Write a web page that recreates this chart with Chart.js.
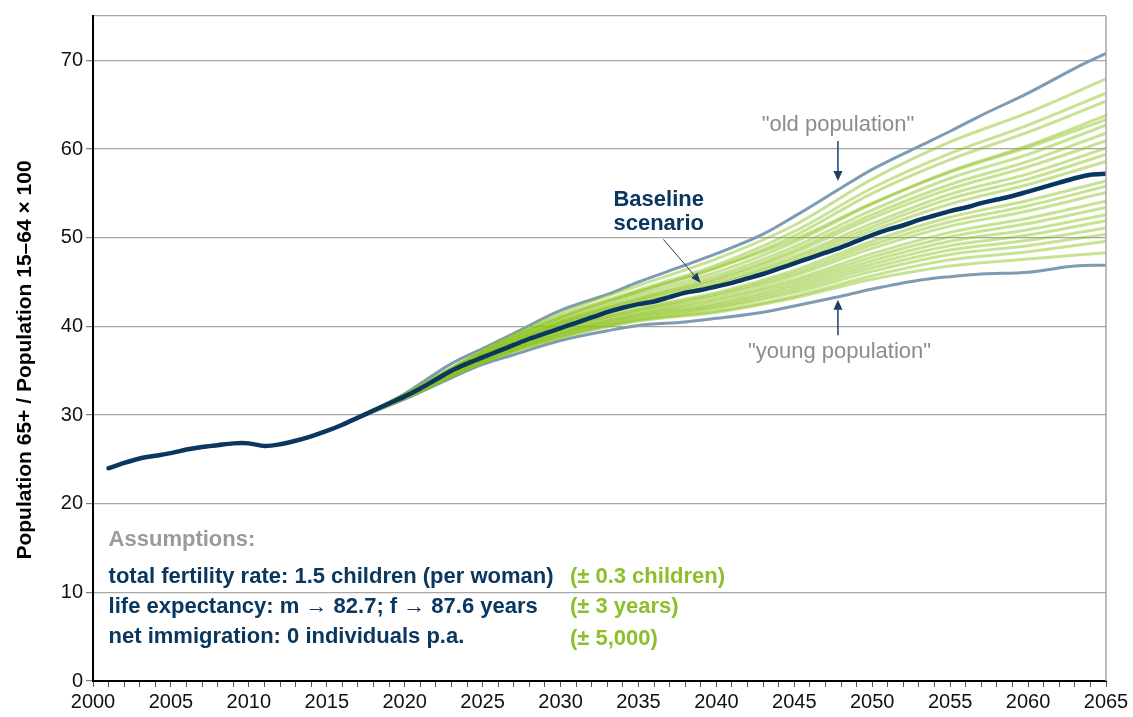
<!DOCTYPE html>
<html><head><meta charset="utf-8">
<script src="https://cdn.jsdelivr.net/npm/chart.js@4.4.1/dist/chart.umd.min.js"></script>
<style>html,body{margin:0;padding:0;background:#fff}#wrap{width:1133px;height:717px;position:relative}</style>
</head><body><div id="wrap"><canvas id="c"></canvas></div>
<script>
// ---------- data ----------
const baseYears = [2001,2002,2003,2004,2005,2006,2007,2008,2009,2010,2011,2012,2013,2014,2015,2016,2017,2018,2019,2020,
  2021,2022,2023,2024,2025,2026,2027,2028,2029,2030,2031,2032,2033,2034,2035,2036,2037,2038,2039,2040,
  2041,2042,2043,2044,2045,2046,2047,2048,2049,2050,2051,2052,2053,2054,2055,2056,2057,2058,2059,2060,
  2061,2062,2063,2064,2065];
const baseline = [24.0,24.6,25.1,25.4,25.7,26.1,26.4,26.6,26.8,26.8,26.5,26.7,27.1,27.6,28.2,28.9,29.7,30.5,31.3,32.1,
  33.0,34.0,35.0,35.8,36.5,37.2,37.9,38.6,39.2,39.8,40.4,41.0,41.6,42.1,42.5,42.8,43.3,43.8,44.1,44.5,
  44.9,45.4,45.9,46.5,47.1,47.7,48.3,48.9,49.6,50.3,50.9,51.4,52.0,52.5,53.0,53.4,53.9,54.3,54.7,55.2,
  55.7,56.2,56.7,57.1,57.2];

const envYears = [2017,2020,2023,2025,2027,2030,2033,2035,2038,2040,2043,2045,2048,2050,2053,2055,2057,2060,2063,2065];
const oldPopulation   = [29.7,32.4,35.8,37.5,39.2,41.8,43.6,45.0,46.9,48.2,50.4,52.4,55.6,57.7,60.3,62.0,63.8,66.3,69.1,70.8];
const youngPopulation = [29.7,31.8,34.2,35.7,36.8,38.4,39.5,40.1,40.5,40.9,41.6,42.3,43.4,44.2,45.2,45.6,45.9,46.1,46.8,46.9];

const variantYears = [2017,2020,2025,2030,2035,2040,2045,2050,2055,2060,2065];
const v01 = [29.7,32.3,37.3,41.5,44.6,47.6,51.4,56.6,60.8,64.1,67.9];
const v02 = [29.7,32.3,37.2,41.2,44.1,46.9,50.7,55.6,59.5,62.7,66.3];
const v03 = [29.7,32.3,37.1,41.0,43.9,46.6,50.2,55.0,58.8,61.9,65.4];
const v04 = [29.7,32.2,37.0,40.8,43.6,46.1,49.5,53.8,57.5,60.4,63.8];
const v05 = [29.7,32.3,37.1,41.0,43.9,46.6,49.8,53.9,57.4,60.2,63.3];
const v06 = [29.7,32.2,36.9,40.6,43.3,45.7,49.0,53.1,56.7,59.4,62.7];
const v07 = [29.7,32.2,36.8,40.5,43.1,45.4,48.6,52.6,56.0,58.6,61.8];
const v08 = [29.7,32.2,36.8,40.4,43.0,45.2,48.3,52.2,55.5,58.0,60.9];
const v09 = [29.7,32.1,36.7,40.3,42.8,44.9,47.9,51.6,54.9,57.2,60.1];
const v10 = [29.7,32.1,36.6,40.2,42.6,44.7,47.6,51.2,54.4,56.6,59.4];
const v11 = [29.7,32.1,36.6,40.1,42.5,44.5,47.3,50.8,53.8,56.0,58.6];
const v12 = [29.7,32.0,36.4,39.8,42.1,43.8,46.3,49.6,52.3,54.2,56.4];
const v13 = [29.7,32.0,36.4,39.7,41.9,43.6,46.0,49.2,51.8,53.6,55.8];
const v14 = [29.7,32.0,36.3,39.6,41.8,43.4,45.7,48.8,51.3,53.0,55.1];
const v15 = [29.7,32.0,36.2,39.4,41.6,43.1,45.3,48.2,50.6,52.2,54.1];
const v16 = [29.7,32.0,36.2,39.3,41.4,42.9,45.0,47.8,50.1,51.6,53.4];
const v17 = [29.7,31.9,36.1,39.2,41.3,42.6,44.7,47.4,49.6,50.9,52.6];
const v18 = [29.7,31.9,36.1,39.1,41.1,42.4,44.4,47.0,49.1,50.3,51.9];
const v19 = [29.7,31.9,36.0,39.0,41.0,42.2,44.1,46.6,48.6,49.7,51.1];
const v20 = [29.7,31.9,36.0,38.9,40.8,42.0,43.8,46.2,48.1,49.1,50.4];
const v21 = [29.7,31.9,35.9,38.8,40.7,41.7,43.4,45.7,47.5,48.4,49.6];
const v22 = [29.7,31.9,35.9,38.7,40.6,41.6,43.2,45.3,46.8,47.6,48.3];
const variants = [v01,v02,v03,v04,v05,v06,v07,v08,v09,v10,v11,v12,v13,v14,v15,v16,v17,v18,v19,v20,v21,v22];

const yTicks = [0,10,20,30,40,50,60,70];

// ---------- styles ----------
const NAVY = '#0a3760';
const ENV = '#7e9bb4';
const GREEN_LINE = 'rgba(141,194,31,0.48)';
const GREEN_TXT = '#8dbf2a';
const GRAY_TXT = '#8c8c8c';
const FONT = '"Liberation Sans", Arial, sans-serif';

const pts = (xs, ys) => xs.map((x, i) => ({x: x, y: ys[i]}));

const datasets = [];
datasets.push({data: pts(baseYears, baseline), borderColor: NAVY, borderWidth: 4.5, pointRadius: 0, tension: 0.3, borderCapStyle: 'round', borderJoinStyle: 'round'});
variants.forEach(v => datasets.push({data: pts(variantYears, v), borderColor: GREEN_LINE, borderWidth: 3, pointRadius: 0, cubicInterpolationMode: 'monotone'}));
datasets.push({data: pts(envYears, oldPopulation), borderColor: ENV, borderWidth: 3, pointRadius: 0, cubicInterpolationMode: 'monotone'});
datasets.push({data: pts(envYears, youngPopulation), borderColor: ENV, borderWidth: 3, pointRadius: 0, cubicInterpolationMode: 'monotone'});

function arrow(ctx, x1, y1, x2, y2, lw, hl, hw, color) {
  const a = Math.atan2(y2 - y1, x2 - x1);
  ctx.save();
  ctx.strokeStyle = color; ctx.fillStyle = color; ctx.lineWidth = lw;
  ctx.beginPath();
  ctx.moveTo(x1, y1);
  ctx.lineTo(x2 - Math.cos(a) * hl * 0.8, y2 - Math.sin(a) * hl * 0.8);
  ctx.stroke();
  ctx.translate(x2, y2); ctx.rotate(a);
  ctx.beginPath();
  ctx.moveTo(0, 0); ctx.lineTo(-hl, -hw / 2); ctx.lineTo(-hl, hw / 2); ctx.closePath();
  ctx.fill();
  ctx.restore();
}

const annotations = {
  id: 'annotations',
  afterDraw(chart) {
    const ctx = chart.ctx, xs = chart.scales.x, ys = chart.scales.y, ca = chart.chartArea;
    const X = v => xs.getPixelForValue(v), Y = v => ys.getPixelForValue(v);
    ctx.save();
    // right border
    ctx.strokeStyle = '#a6a6a6'; ctx.lineWidth = 1.5;
    ctx.beginPath(); ctx.moveTo(ca.right, ca.top); ctx.lineTo(ca.right, ca.bottom); ctx.stroke();

    // axis title
    ctx.save();
    ctx.translate(25, 360); ctx.rotate(-Math.PI / 2);
    ctx.font = 'bold 21px ' + FONT; ctx.fillStyle = '#000'; ctx.textAlign = 'center'; ctx.textBaseline = 'middle';
    ctx.fillText('Population 65+ / Population 15\u201364 \u00d7 100', 0, 0);
    ctx.restore();

    ctx.textBaseline = 'middle';
    // old population
    ctx.font = '22px ' + FONT; ctx.fillStyle = GRAY_TXT; ctx.textAlign = 'center';
    ctx.fillText('"old population"', X(2047.8), Y(62.7));
    arrow(ctx, X(2047.8), Y(60.9), X(2047.8), Y(56.4), 1.5, 10, 9, '#1d3f63');
    // young population
    ctx.fillText('"young population"', X(2047.9), Y(37.1));
    arrow(ctx, X(2047.8), Y(39.0), X(2047.8), Y(43.0), 1.5, 10, 9, '#1d3f63');
    // baseline
    ctx.font = 'bold 22px ' + FONT; ctx.fillStyle = NAVY;
    ctx.fillText('Baseline', X(2036.3), Y(54.3));
    ctx.fillText('scenario', X(2036.3), Y(51.5));
    arrow(ctx, X(2036.6), Y(49.8), X(2039.0), Y(44.9), 1, 10, 8, '#1d3f63');

    // assumptions
    ctx.textAlign = 'left';
    ctx.fillStyle = '#9a9a9a';
    ctx.fillText('Assumptions:', X(2001.0), Y(15.9));
    ctx.fillStyle = NAVY;
    ctx.fillText('total fertility rate: 1.5 children (per woman)', X(2001.0), Y(11.7));
    ctx.fillText('life expectancy: m \u2192 82.7; f \u2192 87.6 years', X(2001.0), Y(8.3));
    ctx.fillText('net immigration: 0 individuals p.a.', X(2001.0), Y(5.0));
    ctx.fillStyle = GREEN_TXT;
    ctx.fillText('(\u00b1 0.3 children)', X(2030.6), Y(11.7));
    ctx.fillText('(\u00b1 3 years)', X(2030.6), Y(8.3));
    ctx.fillText('(\u00b1 5,000)', X(2030.6), Y(4.7));
    ctx.restore();
  }
};

new Chart(document.getElementById('c'), {
  type: 'line',
  data: {datasets: datasets},
  options: {
    responsive: true, maintainAspectRatio: false, animation: false,
    layout: {padding: {top: 16, right: 27, left: 0, bottom: 0}},
    plugins: {legend: {display: false}, tooltip: {enabled: false}},
    elements: {line: {fill: false}},
    scales: {
      x: {
        type: 'linear', min: 2000, max: 2065,
        afterFit(s) { s.height = 36; },
        ticks: {
          stepSize: 1, autoSkip: false, maxRotation: 0, minRotation: 0, padding: 3,
          color: '#111', font: {family: FONT, size: 20},
          callback: v => (v % 5 === 0 ? String(v) : '')
        },
        afterBuildTicks(s) { s.ticks = []; for (let y = 2000; y <= 2065; y++) s.ticks.push({value: y}); },
        grid: {drawOnChartArea: false, drawTicks: true, tickLength: 6, tickColor: '#555', tickWidth: 1},
        border: {color: '#000', width: 2}
      },
      y: {
        type: 'linear', min: 0, max: 75,
        afterFit(s) { s.width = 93; },
        afterBuildTicks(s) { s.ticks = yTicks.map(v => ({value: v})).concat([{value: 75}]); },
        ticks: {
          padding: 3, color: '#111', font: {family: FONT, size: 20},
          callback: v => (yTicks.includes(v) ? String(v) : '')
        },
        grid: {
          color: '#a6a6a6', lineWidth: 1.2, tickLength: 7,
          tickColor: c => (c.tick && c.tick.value === 75 ? 'rgba(0,0,0,0)' : '#808080')
        },
        border: {color: '#000', width: 2}
      }
    }
  },
  plugins: [annotations]
});
</script></body></html>
